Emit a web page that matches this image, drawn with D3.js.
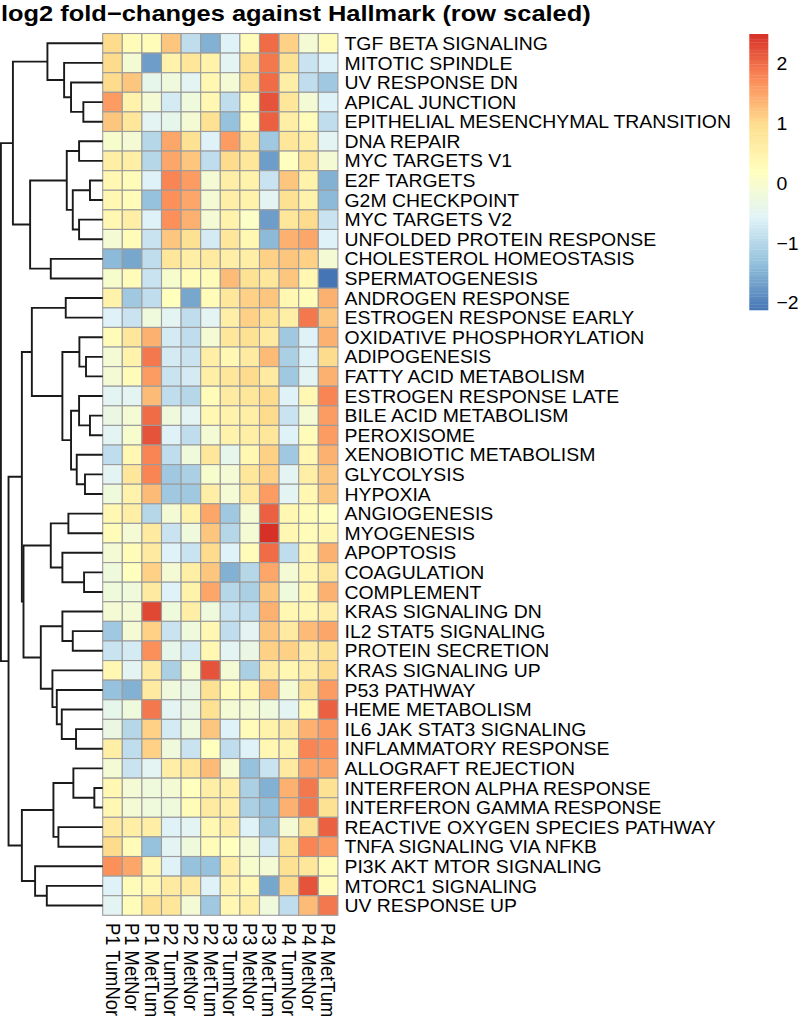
<!DOCTYPE html>
<html>
<head>
<meta charset="utf-8">
<script src="https://cdn.jsdelivr.net/npm/d3@7"></script>
<style>
body { margin: 0; background: #fff; }
text { font-family: "Liberation Sans", Arial, Helvetica, sans-serif; fill: #000; }
</style>
</head>
<body>
<svg id="chart" width="799" height="1019"></svg>
<script>
// ---- data ----
var rowLabels = [
  "TGF BETA SIGNALING", "MITOTIC SPINDLE", "UV RESPONSE DN", "APICAL JUNCTION",
  "EPITHELIAL MESENCHYMAL TRANSITION", "DNA REPAIR", "MYC TARGETS V1", "E2F TARGETS",
  "G2M CHECKPOINT", "MYC TARGETS V2", "UNFOLDED PROTEIN RESPONSE", "CHOLESTEROL HOMEOSTASIS",
  "SPERMATOGENESIS", "ANDROGEN RESPONSE", "ESTROGEN RESPONSE EARLY", "OXIDATIVE PHOSPHORYLATION",
  "ADIPOGENESIS", "FATTY ACID METABOLISM", "ESTROGEN RESPONSE LATE", "BILE ACID METABOLISM",
  "PEROXISOME", "XENOBIOTIC METABOLISM", "GLYCOLYSIS", "HYPOXIA", "ANGIOGENESIS",
  "MYOGENESIS", "APOPTOSIS", "COAGULATION", "COMPLEMENT", "KRAS SIGNALING DN",
  "IL2 STAT5 SIGNALING", "PROTEIN SECRETION", "KRAS SIGNALING UP", "P53 PATHWAY",
  "HEME METABOLISM", "IL6 JAK STAT3 SIGNALING", "INFLAMMATORY RESPONSE", "ALLOGRAFT REJECTION",
  "INTERFERON ALPHA RESPONSE", "INTERFERON GAMMA RESPONSE", "REACTIVE OXYGEN SPECIES PATHWAY",
  "TNFA SIGNALING VIA NFKB", "PI3K AKT MTOR SIGNALING", "MTORC1 SIGNALING", "UV RESPONSE UP"
];

var colLabels = [
  "P1 TumNor", "P1 MetNor", "P1 MetTum", "P2 TumNor", "P2 MetNor", "P2 MetTum",
  "P3 TumNor", "P3 MetNor", "P3 MetTum", "P4 TumNor", "P4 MetNor", "P4 MetTum"
];

// row scaled log2 fold-changes, one row per pathway, columns as colLabels
var values = [
  [1.0, 0.3, 0.3, 1.2, -0.9, -1.5, -0.6, 0.3, 2.0, 1.1, -0.1, 0.3],
  [1.0, -0.1, -1.7, 0.5, 0.8, 0.5, -0.5, 0.9, 1.9, 0.9, -0.8, -0.6],
  [1.0, 1.2, -0.4, -0.2, -0.5, 0.4, -0.1, 0.9, 2.0, 0.6, -0.9, -1.2],
  [1.6, 0.5, -0.1, -0.7, -0.2, 0.4, -0.9, 0.3, 2.2, 0.8, -0.1, -0.6],
  [1.2, 0.8, -0.5, -0.4, -0.1, 0.9, -1.3, 0.3, 2.1, 0.6, 0.3, -0.9],
  [0.0, -0.1, -1.0, 1.5, 0.9, -0.6, 1.6, 0.8, -1.2, 0.8, 0.6, -0.5],
  [0.6, 0.6, -1.0, 1.5, 1.2, -0.9, 1.0, 0.8, -1.7, 0.2, 0.8, -0.1],
  [0.4, 0.3, -0.6, 1.8, 1.6, -0.1, 0.6, 0.5, -0.8, 1.2, 0.5, -1.5],
  [0.4, 0.3, -1.3, 1.7, 1.5, -0.1, 0.6, 0.5, -0.5, 0.9, 0.5, -1.4],
  [0.4, 0.6, -0.6, 1.7, 1.4, -0.1, 0.5, 0.1, -1.7, 0.8, 1.0, -0.8],
  [-0.1, 0.3, -0.8, 1.2, 0.9, -0.7, 0.8, 0.4, -1.4, 1.4, 1.5, -0.6],
  [-1.4, -1.6, -0.9, 0.8, 0.6, 0.7, 0.6, 0.6, 1.1, 1.2, 1.1, -0.1],
  [0.0, 0.3, -0.8, 0.0, 0.3, 0.3, 1.3, 0.9, 0.8, 1.2, 0.4, -2.12],
  [0.5, -1.2, -0.9, 0.2, -1.6, 0.3, 0.8, 1.1, 1.2, 0.4, 0.3, 1.4],
  [-0.6, -0.8, -0.2, -0.5, -0.9, -0.5, 0.6, 1.1, 0.9, 0.6, 1.9, 1.2],
  [0.3, 0.8, 1.4, -0.7, -0.9, -0.1, 0.8, 0.9, 0.7, -1.2, -0.6, 1.4],
  [-0.1, 0.5, 1.9, -0.7, -0.8, 0.6, 0.4, 0.7, 1.3, -1.1, -0.6, 1.0],
  [-0.1, 0.3, 1.6, -0.8, -0.7, 0.6, 0.8, 1.0, 0.7, -1.2, -0.5, 1.4],
  [-0.5, -0.5, 1.3, -0.9, -1.0, 0.3, 0.7, 0.8, 1.0, -0.6, 0.4, 1.8],
  [-0.3, -0.1, 2.0, -0.2, -0.5, 0.4, 0.5, 0.6, 1.0, -0.8, -0.1, 1.6],
  [-0.5, 0.0, 2.2, -0.6, -0.9, -0.1, 0.5, 0.6, 0.8, -0.6, 0.3, 1.6],
  [-0.9, 0.4, 1.8, -0.9, -0.2, 0.8, -0.4, 0.4, 1.1, -1.2, 0.4, 1.4],
  [-0.5, 0.8, 1.8, -1.2, -1.1, 0.0, -0.1, 0.8, 1.1, -0.5, 0.6, 1.2],
  [-0.2, 0.5, 1.3, -1.2, -1.2, 0.6, -0.1, 0.7, 1.6, -0.5, 0.4, 1.2],
  [0.4, 0.6, -1.0, -0.1, 0.5, 1.5, -1.2, -0.1, 2.1, 0.4, 0.3, 0.2],
  [0.3, -0.1, 0.7, -0.8, -0.2, 1.2, -1.0, -0.1, 2.5, 0.4, 0.3, 0.4],
  [-0.1, 0.3, 0.7, -0.6, -0.8, 1.0, -0.6, 0.3, 2.0, -0.9, 0.4, 1.4],
  [-0.2, 0.2, 1.1, -0.1, 0.6, 1.2, -1.5, -1.0, 1.5, -0.1, 0.4, 0.8],
  [-0.2, -0.2, 0.7, -0.6, 0.5, 1.5, -1.0, -1.1, 1.2, -0.2, 0.4, 1.4],
  [-0.1, -0.1, 2.3, -0.2, 0.6, -0.2, -0.8, -0.9, 1.4, 0.4, 0.4, 0.6],
  [-1.2, -0.1, 1.1, -0.8, -0.2, 0.4, -0.9, -0.5, 1.2, 0.7, 1.3, 1.5],
  [-0.8, -0.7, 1.7, -0.4, -0.7, 0.4, -0.5, -0.3, 1.1, 1.1, 0.7, 0.9],
  [0.4, -0.5, 0.7, -1.1, -0.1, 2.2, -0.1, -1.1, 0.7, 0.4, 0.6, 1.0],
  [-1.3, -1.5, 0.7, -0.2, -0.3, 0.9, 0.3, 0.4, 1.3, -0.1, 0.9, 1.6],
  [-0.4, -0.2, 1.9, -0.5, -0.3, 0.9, -0.1, -0.1, -0.2, -0.5, 0.4, 2.1],
  [-0.3, -1.0, 1.1, -0.7, -0.2, 1.2, -0.6, 0.3, 0.5, 0.7, 1.4, 1.6],
  [0.6, -0.9, 1.1, -0.2, -0.8, 0.2, -0.9, -0.6, 0.4, 0.5, 1.8, 1.7],
  [-0.1, -0.8, -0.5, 0.6, 0.8, 1.3, -0.1, -1.3, -0.8, 0.7, 1.5, 1.5],
  [0.4, -0.1, -0.2, -0.1, 0.2, 0.6, 0.6, -1.1, -1.5, 1.4, 1.9, 0.9],
  [0.4, -0.1, -0.2, -0.2, 0.3, 0.7, 0.6, -1.1, -1.3, 1.4, 1.9, 0.9],
  [0.7, 0.6, 0.6, -0.6, -0.5, 0.4, 0.6, -0.6, -1.2, -0.1, 0.9, 2.1],
  [1.0, 0.3, -1.3, -0.5, -0.2, 0.3, 0.2, -0.1, -0.7, 0.9, 1.8, 1.6],
  [1.7, 1.5, 0.4, -0.6, -1.3, -1.3, 0.6, 0.0, -0.1, 0.9, 0.8, 0.3],
  [-0.6, 0.3, 0.4, 0.7, 0.7, -0.6, 0.5, 0.4, -1.6, 1.0, 2.2, 0.3],
  [-0.5, 0.3, 0.9, 0.8, -0.1, -1.2, 0.4, 0.6, -0.2, -0.9, 1.3, 1.9]
];

var legendTicks = [-2, -1, 0, 1, 2];

// row clustering: each merge joins two leaves (row index) or earlier merges ("m" + index)
var rowMerge = [
  [38, 39], [7, 8], [19, 20], [16, 17], [22, 23], [27, 28], [3, 4], [15, "m3"],
  [5, 6], [9, 10], [18, "m2"], [21, "m4"], [35, 36], [37, "m0"], ["m1", "m9"], [30, 31],
  [2, "m6"], ["m10", "m11"], [24, 25], ["m8", "m14"], [13, 14], [1, "m16"], ["m7", "m17"],
  [26, "m5"], [29, "m15"], [34, "m12"], [40, 41], [33, "m25"], ["m13", "m26"], [32, "m27"],
  [11, 12], ["m18", "m23"], [0, "m21"], [43, 44], ["m24", "m29"], [42, "m33"], ["m20", "m22"],
  ["m19", "m30"], ["m31", "m34"], ["m36", "m38"], ["m28", "m35"], ["m32", "m37"],
  ["m39", "m40"], ["m41", "m42"]
];
var rowHeight = [
  0.82, 1.25, 1.25, 1.64, 1.74, 1.83, 1.90, 2.29,
  2.32, 2.32, 2.32, 2.55, 2.62, 2.88, 2.94, 2.94,
  3.11, 3.11, 3.37, 3.53, 3.63, 3.79, 3.96,
  3.96, 3.96, 4.02, 4.35, 4.51, 4.84, 4.94,
  5.10, 5.10, 5.43, 5.49, 6.08, 6.64, 6.96,
  7.13, 7.78, 7.94, 7.94, 8.82,
  9.25, 10.0
];

// ---- layout ----
var svg = d3.select("#chart");
var palette = ["#4575B4", "#91BFDB", "#E0F3F8", "#FFFFBF", "#FEE090", "#FC8D59", "#D73027"];
var stretch = 1.055;   // text in the original is a bit wider than tall

var x = d3.scaleBand().domain(colLabels).range([102.7, 337.9]);
var y = d3.scaleBand().domain(rowLabels).range([33.5, 915.3]);

var allVals = d3.merge(values);
var ext = d3.extent(allVals);
var color = d3.scaleLinear()
  .domain(d3.range(palette.length).map(function(i) { return ext[0] + i * (ext[1] - ext[0]) / (palette.length - 1); }))
  .range(palette)
  .interpolate(d3.interpolateRgb);

// title
svg.append("text")
  .attr("transform", "translate(1,20.5) scale(1.13,1)")
  .style("font-size", "22.5px").style("font-weight", "bold")
  .text("log2 fold\u2212changes against Hallmark (row scaled)");

// cells
var cells = [];
values.forEach(function(row, i) {
  row.forEach(function(v, j) { cells.push({ r: rowLabels[i], c: colLabels[j], v: v }); });
});
svg.append("g").selectAll("rect")
  .data(cells)
  .enter().append("rect")
  .attr("x", function(d) { return x(d.c); })
  .attr("y", function(d) { return y(d.r); })
  .attr("width", x.bandwidth())
  .attr("height", y.bandwidth())
  .attr("fill", function(d) { return color(d.v); })
  .attr("stroke", "#9c9c9c")
  .attr("stroke-width", 1.1);

// row labels
svg.append("g").selectAll("text")
  .data(rowLabels)
  .enter().append("text")
  .attr("transform", function(d) { return "translate(344.5," + (y(d) + y.bandwidth() / 2) + ") scale(" + stretch + ",1)"; })
  .attr("dy", "0.36em")
  .style("font-size", "18.4px")
  .text(function(d) { return d; });

// column labels, reading downwards
svg.append("g").selectAll("text")
  .data(colLabels)
  .enter().append("text")
  .attr("transform", function(d) { return "translate(" + (x(d) + x.bandwidth() / 2) + ",923) scale(" + stretch + ",1) rotate(90)"; })
  .attr("dy", "0.36em")
  .style("font-size", "18.4px")
  .text(function(d) { return d; });

// dendrogram
var nodes = [];
function ref(k) {
  if (typeof k === "number") return { leaf: k, h: 0 };
  return nodes[+k.slice(1)];
}
rowMerge.forEach(function(m, i) {
  nodes.push({ h: rowHeight[i], children: [ref(m[0]), ref(m[1])] });
});
var root = d3.hierarchy(nodes[nodes.length - 1]);
var hx = d3.scaleLinear().domain([0, d3.max(rowHeight)]).range([102.7, 0.9]);
root.eachAfter(function(n) {
  n.px = hx(n.data.h);
  if (n.children) n.py = d3.mean(n.children, function(c) { return c.py; });
  else n.py = y(rowLabels[n.data.leaf]) + y.bandwidth() / 2;
});
svg.append("g").selectAll("path")
  .data(root.descendants().filter(function(n) { return n.children; }))
  .enter().append("path")
  .attr("fill", "none")
  .attr("stroke", "#1a1a1a")
  .attr("stroke-width", 1.9)
  .attr("d", function(n) {
    var a = n.children[0], b = n.children[1];
    return "M" + a.px + "," + a.py + "H" + n.px + "V" + b.py + "H" + b.px;
  });

// legend
var lg = d3.scaleLinear().domain(ext).range([310, 34]);
var steps = d3.range(100).map(function(i) { return ext[0] + (i + 0.5) * (ext[1] - ext[0]) / 100; });
var stepH = (lg.range()[0] - lg.range()[1]) / 100;
svg.append("g").selectAll("rect")
  .data(steps)
  .enter().append("rect")
  .attr("x", 749.3)
  .attr("y", function(d) { return lg(d) - stepH / 2; })
  .attr("width", 19)
  .attr("height", stepH + 0.3)
  .attr("fill", function(d) { return color(d); });
svg.append("g").selectAll("text")
  .data(legendTicks)
  .enter().append("text")
  .attr("transform", function(d) { return "translate(776.5," + lg(d) + ") scale(" + stretch + ",1)"; })
  .attr("dy", "0.36em")
  .style("font-size", "18.4px")
  .text(function(d) { return d < 0 ? "\u2212" + Math.abs(d) : d; });
</script>
</body>
</html>
